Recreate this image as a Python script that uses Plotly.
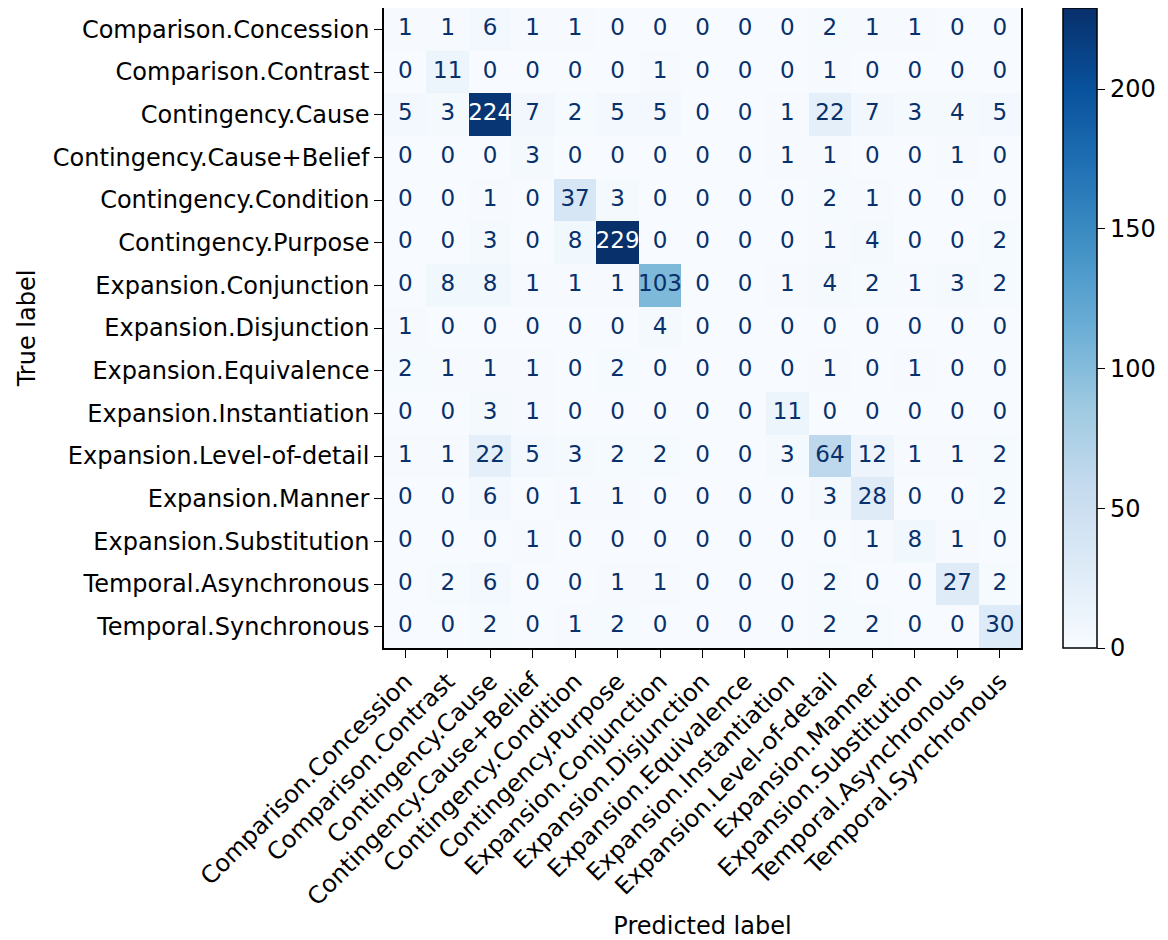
import plotly.graph_objects as go

labels = [
    "Comparison.Concession", "Comparison.Contrast", "Contingency.Cause",
    "Contingency.Cause+Belief", "Contingency.Condition", "Contingency.Purpose",
    "Expansion.Conjunction", "Expansion.Disjunction", "Expansion.Equivalence",
    "Expansion.Instantiation", "Expansion.Level-of-detail", "Expansion.Manner",
    "Expansion.Substitution", "Temporal.Asynchronous", "Temporal.Synchronous",
]

matrix = [
    [1, 1, 6, 1, 1, 0, 0, 0, 0, 0, 2, 1, 1, 0, 0],
    [0, 11, 0, 0, 0, 0, 1, 0, 0, 0, 1, 0, 0, 0, 0],
    [5, 3, 224, 7, 2, 5, 5, 0, 0, 1, 22, 7, 3, 4, 5],
    [0, 0, 0, 3, 0, 0, 0, 0, 0, 1, 1, 0, 0, 1, 0],
    [0, 0, 1, 0, 37, 3, 0, 0, 0, 0, 2, 1, 0, 0, 0],
    [0, 0, 3, 0, 8, 229, 0, 0, 0, 0, 1, 4, 0, 0, 2],
    [0, 8, 8, 1, 1, 1, 103, 0, 0, 1, 4, 2, 1, 3, 2],
    [1, 0, 0, 0, 0, 0, 4, 0, 0, 0, 0, 0, 0, 0, 0],
    [2, 1, 1, 1, 0, 2, 0, 0, 0, 0, 1, 0, 1, 0, 0],
    [0, 0, 3, 1, 0, 0, 0, 0, 0, 11, 0, 0, 0, 0, 0],
    [1, 1, 22, 5, 3, 2, 2, 0, 0, 3, 64, 12, 1, 1, 2],
    [0, 0, 6, 0, 1, 1, 0, 0, 0, 0, 3, 28, 0, 0, 2],
    [0, 0, 0, 1, 0, 0, 0, 0, 0, 0, 0, 1, 8, 1, 0],
    [0, 2, 6, 0, 0, 1, 1, 0, 0, 0, 2, 0, 0, 27, 2],
    [0, 0, 2, 0, 1, 2, 0, 0, 0, 0, 2, 2, 0, 0, 30],
]

cbar_ticks = [0, 50, 100, 150, 200]

blues = ["#f7fbff", "#deebf7", "#c6dbef", "#9ecae1", "#6baed6",
         "#4292c6", "#2171b5", "#08519c", "#08306b"]
colorscale = [[i / (len(blues) - 1), c] for i, c in enumerate(blues)]

vmax = max(max(r) for r in matrix)
vmin = min(min(r) for r in matrix)
thresh = (vmax + vmin) / 2.0

FONT = "DejaVu Sans"
FS = 24

fig = go.Figure()
fig.add_trace(go.Heatmap(
    z=matrix, x=labels, y=labels, colorscale=colorscale,
    zmin=0, zmax=vmax, hoverinfo="skip",
    colorbar=dict(
        x=1.066, xanchor="left", y=0.5, yanchor="middle", len=1.0, lenmode="fraction",
        ypad=0, xpad=0,
        thickness=34, outlinecolor="black", outlinewidth=1.5,
        tickvals=cbar_ticks, ticks="outside", ticklen=8, tickcolor="black",
        tickfont=dict(family=FONT, size=FS, color="black"),
    ),
))

xs, ys, txt, cols = [], [], [], []
for i, row in enumerate(matrix):
    for j, v in enumerate(row):
        xs.append(labels[j])
        ys.append(labels[i])
        txt.append(str(v))
        cols.append("#ffffff" if v > thresh else "#08306b")

fig.add_trace(go.Scatter(
    x=xs, y=ys, mode="text", text=txt,
    textfont=dict(family=FONT, size=23, color=cols),
    hoverinfo="skip", showlegend=False,
))

axis_common = dict(
    type="category", showgrid=False, zeroline=False, showline=True,
    linecolor="black", linewidth=1.5, mirror=True, ticks="outside",
    ticklen=8, tickwidth=1.2, tickcolor="black", automargin=False,
    tickfont=dict(family=FONT, size=FS, color="black"),
)

fig.update_xaxes(
    **axis_common, categoryorder="array", categoryarray=labels,
    range=[-0.5, len(labels) - 0.5], tickangle=-45,
    title=dict(text="Predicted label", font=dict(family=FONT, size=FS, color="black"), standoff=14),
)
fig.update_yaxes(
    **axis_common, categoryorder="array", categoryarray=labels,
    range=[len(labels) - 0.5, -0.5],
    title=dict(text="True label", font=dict(family=FONT, size=FS, color="black"), standoff=10),
)

fig.update_layout(
    width=1160, height=932,
    margin=dict(l=376, r=147, t=0, b=292, autoexpand=False),
    paper_bgcolor="white", plot_bgcolor="white",
    font=dict(family=FONT, size=FS, color="black"),
    showlegend=False,
)

fig.write_html("out.html")
